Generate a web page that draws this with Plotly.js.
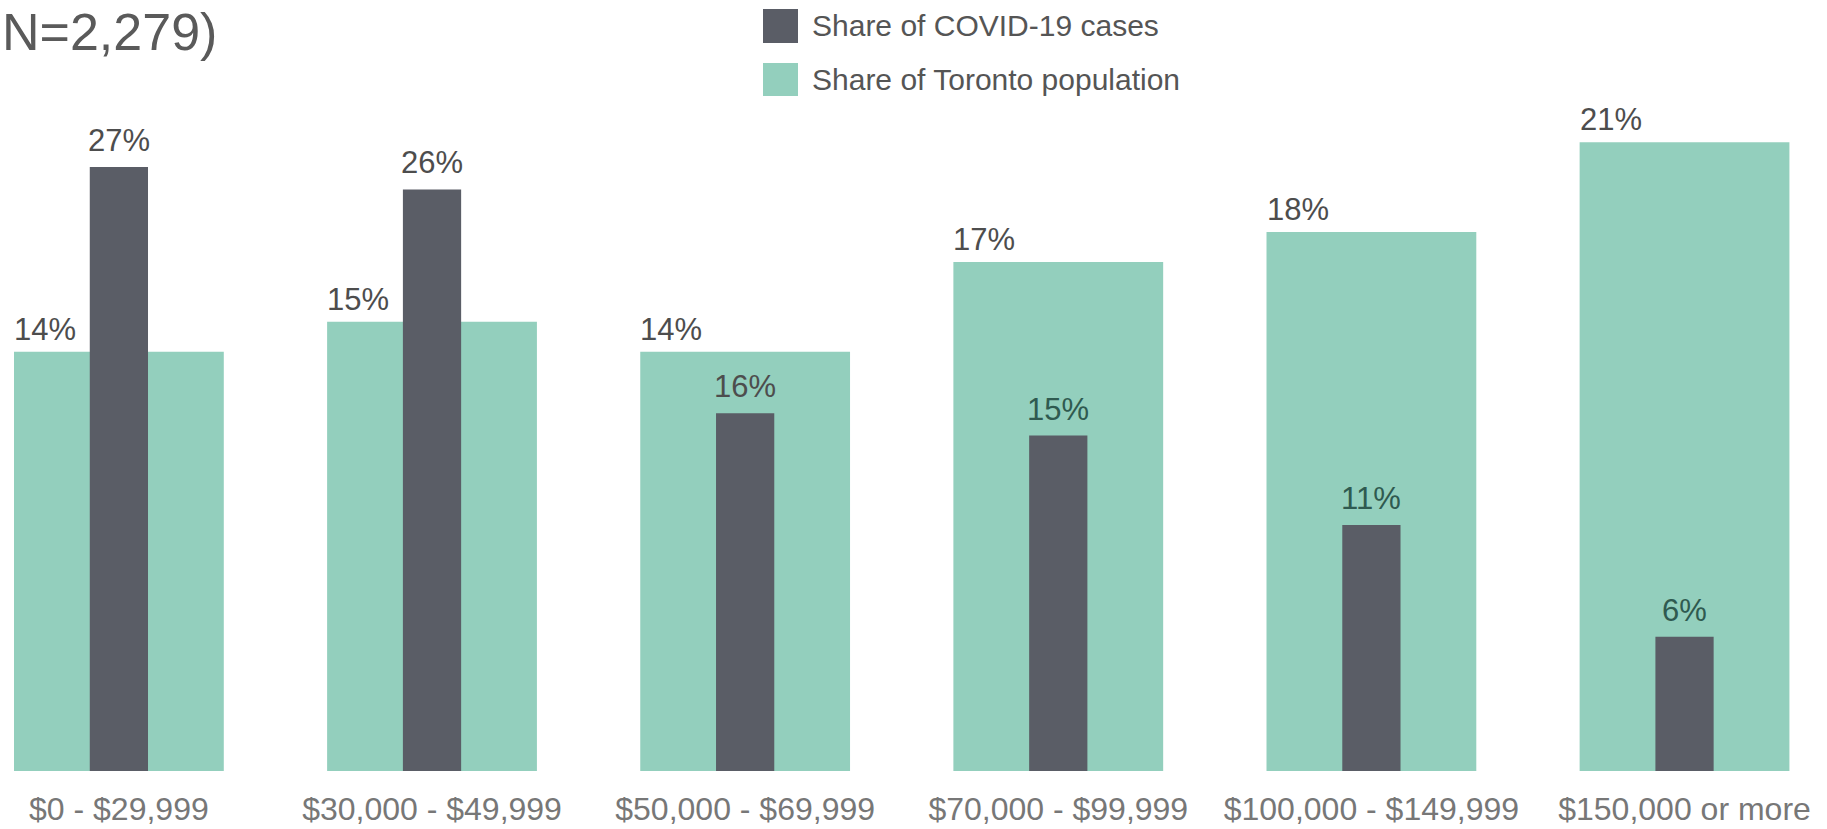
<!DOCTYPE html>
<html>
<head>
<meta charset="utf-8">
<script src="https://cdn.plot.ly/plotly-3.0.1.min.js"></script>
<style>
  html, body { margin: 0; padding: 0; background: #ffffff; }
  #chart { width: 1827px; height: 829px; }
</style>
</head>
<body>
<div id="chart"></div>
<script>
// ---- data ----
const categories = ['$0 - $29,999', '$30,000 - $49,999', '$50,000 - $69,999',
                    '$70,000 - $99,999', '$100,000 - $149,999', '$150,000 or more'];
const covidShare = [27, 26, 16, 15, 11, 6];        // Share of COVID-19 cases (%)
const popShare   = [14, 15, 14, 17, 18, 21];       // Share of Toronto population (%)
const seriesNames = ['Share of COVID-19 cases', 'Share of Toronto population'];
const titleText = 'N=2,279)';

// ---- style / geometry ----
const FONT = 'Liberation Sans, Arial, sans-serif';
const DARK = '#5a5d66';
const TEAL = '#93cfbd';
const TEAL_W = 0.67;
const DARK_W = 0.186;
const W = 1827, H = 829, MT = 100, MB = 58;
const PLOT_H = H - MT - MB;
const BASE = H - MB;
const py = p => (BASE - p) / PLOT_H;   // pixel row -> paper y
const px = p => p / W;                 // pixel column -> paper x

const xIdx = categories.map((_, i) => i);

const tealBars = {
  type: 'bar', x: xIdx, y: popShare, name: seriesNames[1],
  width: xIdx.map(() => TEAL_W), offset: -TEAL_W / 2,
  marker: { color: TEAL, line: { width: 0 } },
  xaxis: 'x', yaxis: 'y', hoverinfo: 'skip', showlegend: false
};
const darkBars = {
  type: 'bar', x: xIdx, y: covidShare, name: seriesNames[0],
  width: xIdx.map(() => DARK_W), offset: -DARK_W / 2,
  marker: { color: DARK, line: { width: 0 } },
  xaxis: 'x', yaxis: 'y2', hoverinfo: 'skip', showlegend: false
};

// value labels: teal ones left-aligned on the teal bar, dark ones centred
const tealLabelAnns = popShare.map((v, i) => ({
  text: v + '%', x: i - TEAL_W / 2, y: v, xref: 'x', yref: 'y',
  xanchor: 'left', yanchor: 'bottom', yshift: 3, xshift: -2, showarrow: false,
  font: { family: FONT, size: 31, color: '#4d4d4d' }
}));
const darkLabelAnns = covidShare.map((v, i) => ({
  text: v + '%', x: i, y: v, xref: 'x', yref: 'y2',
  xanchor: 'center', yanchor: 'bottom', yshift: 7, showarrow: false,
  font: { family: FONT, size: 31, color: v < popShare[i] ? '#2f5a50' : '#4d4d4d' }
}));

const layout = {
  width: W, height: H,
  margin: { l: 0, r: 0, t: MT, b: MB, pad: 0 },
  paper_bgcolor: '#ffffff', plot_bgcolor: 'rgba(0,0,0,0)',
  barmode: 'overlay',
  showlegend: false,
  font: { family: FONT, color: '#555555' },
  xaxis: {
    range: [-0.3797, 5.455],
    tickvals: xIdx, ticktext: categories,
    tickfont: { family: FONT, size: 32, color: '#777777' },
    showgrid: false, zeroline: false, showline: false, ticks: '',
    ticklabelstandoff: 16, fixedrange: true
  },
  yaxis: {
    range: [0, 22.41], visible: false, showgrid: false, zeroline: false, fixedrange: true
  },
  yaxis2: {
    range: [0, 30.0], overlaying: 'y', visible: false, showgrid: false, zeroline: false, fixedrange: true
  },
  shapes: [
    { type: 'rect', xref: 'paper', yref: 'paper', layer: 'above',
      x0: px(763), x1: px(798), y0: py(43), y1: py(9),
      fillcolor: DARK, line: { width: 0 } },
    { type: 'rect', xref: 'paper', yref: 'paper', layer: 'above',
      x0: px(763), x1: px(798), y0: py(96), y1: py(63),
      fillcolor: TEAL, line: { width: 0 } }
  ],
  annotations: [
    { text: titleText, xref: 'paper', yref: 'paper', x: 0, y: py(1),
      xanchor: 'left', yanchor: 'top', showarrow: false,
      font: { family: FONT, size: 52, color: '#5a5a5a' } },
    { text: seriesNames[0], xref: 'paper', yref: 'paper', x: px(810), y: py(26),
      xanchor: 'left', yanchor: 'middle', showarrow: false,
      font: { family: FONT, size: 30, color: '#555555' } },
    { text: seriesNames[1], xref: 'paper', yref: 'paper', x: px(810), y: py(80),
      xanchor: 'left', yanchor: 'middle', showarrow: false,
      font: { family: FONT, size: 30, color: '#555555' } }
  ].concat(tealLabelAnns, darkLabelAnns)
};

Plotly.newPlot('chart', [tealBars, darkBars], layout,
  { displayModeBar: false, staticPlot: true });
</script>
</body>
</html>
